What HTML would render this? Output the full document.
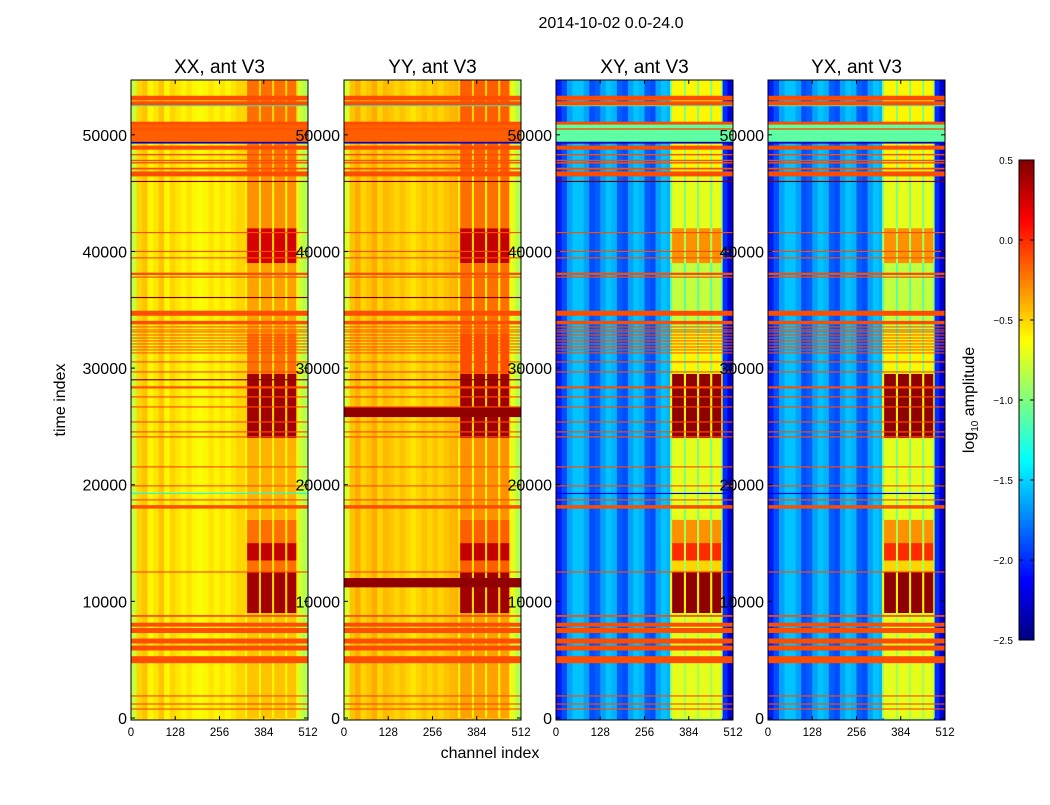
<!DOCTYPE html>
<html><head><meta charset="utf-8">
<style>
html,body{margin:0;padding:0;background:#fff;}
svg text{font-family:"Liberation Sans","DejaVu Sans",sans-serif;}
</style></head>
<body>
<svg id="fig" width="1050" height="800" viewBox="0 0 1050 800" xmlns="http://www.w3.org/2000/svg">
<rect x="0" y="0" width="1050" height="800" fill="#fff"/>
<text x="611" y="28" font-size="16" text-anchor="middle">2014-10-02 0.0-24.0</text>
<text x="490" y="758" font-size="16" text-anchor="middle">channel index</text>
<text transform="translate(65,400) rotate(-90)" font-size="16" text-anchor="middle">time index</text>
<text transform="translate(974,400) rotate(-90)" font-size="16" text-anchor="middle">log<tspan font-size="10" dy="4">10</tspan><tspan dy="-4"> amplitude</tspan></text>
<g id="panels"></g>
<g id="cbar"></g>
</svg>
<script>
const panelNames = ["XX","YY","XY","YX"];
const panelLeft = [131,344,556,768];
const xTicks = [0,128,256,384,512];
const yTicks = [0,10000,20000,30000,40000,50000];
const cbTicks = [0.5,0.0,-0.5,-1.0,-1.5,-2.0,-2.5];
const profXX = [-0.8,-0.5,-0.45,-0.6,-0.55,-0.45,-0.6,-0.5,-0.55,-0.6,-0.55,-0.6,-0.65,-0.6,-0.55,-0.6,-0.55,-0.6,-0.55,-0.5,-0.5,-0.5,-0.55,-0.5,-0.55,-0.5,-0.55,-0.5,-0.55,-0.6,-0.75,-0.85];
const profYY = [-0.75,-0.45,-0.38,-0.5,-0.45,-0.38,-0.5,-0.42,-0.45,-0.5,-0.45,-0.5,-0.55,-0.5,-0.45,-0.5,-0.45,-0.5,-0.45,-0.42,-0.4,-0.4,-0.45,-0.4,-0.45,-0.4,-0.45,-0.4,-0.45,-0.5,-0.7,-0.85];
const profXY = [-2.05,-1.9,-1.65,-1.55,-1.55,-1.65,-1.9,-1.85,-1.65,-1.55,-1.6,-1.85,-1.9,-1.65,-1.55,-1.6,-1.85,-1.9,-1.65,-1.55,-1.6,-0.85,-0.85,-0.85,-0.85,-0.85,-0.85,-0.85,-0.85,-0.9,-2.0,-2.25];
const profYX = [-2.05,-1.9,-1.65,-1.55,-1.55,-1.65,-1.9,-1.85,-1.65,-1.55,-1.6,-1.85,-1.9,-1.65,-1.55,-1.6,-1.85,-1.9,-1.65,-1.55,-1.6,-0.85,-0.85,-0.85,-0.85,-0.85,-0.85,-0.85,-0.85,-0.9,-2.0,-2.25];
const rfiBlocks = [[336,370],[376,408],[414,446],[452,478]];
const segStart = [0,9000,12500,13500,15000,17000,24000,29500,33000,39000,42000,46500];
const segEnd   = [9000,12500,13500,15000,17000,24000,29500,33000,39000,42000,46500,54700];
const segXX = [-0.45,0.4,-0.2,0.3,-0.2,-0.4,0.4,-0.2,-0.35,0.25,-0.3,-0.2];
const segYY = [-0.35,0.4,-0.15,0.3,-0.15,-0.3,0.4,-0.1,-0.2,0.3,-0.2,-0.15];
const segXY = [-0.7,0.45,-0.5,0.0,-0.3,-0.7,0.45,-0.6,-0.8,-0.3,-0.7,-0.6];
const segYX = [-0.7,0.45,-0.5,0.0,-0.3,-0.7,0.45,-0.6,-0.8,-0.3,-0.7,-0.6];
const gapXX = [-0.6,-0.5,-0.55,-0.5,-0.55,-0.6,-0.5,-0.55,-0.6,-0.5,-0.6,-0.5];
const gapXY = [-0.9,-0.6,-0.9,-0.8,-0.9,-1.0,-0.6,-1.0,-1.1,-0.9,-1.0,-1.0];
const flagT = [53150,52700,51000,50500,48900,48300,47800,47600,47100,46650,41620,40000,39450,38080,37800,34700,33900,33530,33270,33100,32840,32580,32330,32070,31810,31560,31300,30530,29670,28300,28390,27530,26670,25380,24530,24100,21530,19900,18700,18100,12520,8750,8000,7500,6600,6000,5000,1890,1200,770];
const flagW = [400,350,250,120,350,120,120,120,150,430,100,100,100,200,100,430,300,80,80,80,80,80,80,80,80,80,80,100,100,100,100,100,100,100,100,100,100,100,100,300,100,150,340,430,430,430,600,100,100,100];
const bandStart = [49400,49250,45950,36000,11200,25800,19200,52450,28950];
const bandEnd   = [51000,49400,46050,36100,12000,26700,19300,52550,29050];
const bandXX = [-0.15,-2.3,0.5,0.5,null,null,-1.3,-1.3,0.5];
const bandYY = [-0.15,-2.3,0.5,0.5,0.45,0.45,null,-1.3,0.5];
const bandXY = [-1.1,-2.3,0.5,null,null,null,-2.2,-1.2,null];
const bandYX = [-1.1,-2.3,0.5,null,null,null,-2.2,-1.2,null];

const TOP=80, BOT=720, W=177, TMAX=54700, VMIN=-2.5, VMAX=0.5;
function ty(t){return BOT-2-(t/TMAX)*(BOT-2-TOP);}
function cx(c,left){return left+c/512*W;}
function clip(v){return Math.max(0,Math.min(1,v));}
function jet(v){
  const x=clip((v-VMIN)/(VMAX-VMIN));
  const r=clip(1.5-Math.abs(4*x-3)),g=clip(1.5-Math.abs(4*x-2)),b=clip(1.5-Math.abs(4*x-1));
  return `rgb(${Math.round(r*255)},${Math.round(g*255)},${Math.round(b*255)})`;
}
const NS="http://www.w3.org/2000/svg";
function mk(tag,attrs,parent){const e=document.createElementNS(NS,tag);for(const k in attrs)e.setAttribute(k,attrs[k]);parent.appendChild(e);return e;}
const profs=[profXX,profYY,profXY,profYX];
const segs=[segXX,segYY,segXY,segYX];
const gaps=[gapXX,gapXX,gapXY,gapXY];
const bands=[bandXX,bandYY,bandXY,bandYX];
const root=document.getElementById('panels');
panelNames.forEach((name,p)=>{
  const left=panelLeft[p];
  const g=mk('g',{},root);
  
  
  const hm=mk('g',{},g);
  
  
  profs[p].forEach((v,i)=>{
    const r=mk('rect',{x:cx(i*16,left),y:TOP,width:W/32+0.3,height:BOT-TOP,fill:jet(v)},hm);
    
    
  });
  segStart.forEach((s,k)=>{
    const y0=ty(segEnd[k]),y1=ty(segStart[k]);
    const gr=mk('rect',{x:cx(330,left),y:y0,width:cx(482,left)-cx(330,left),height:y1-y0,fill:jet(gaps[p][k])},hm);
    
    
    rfiBlocks.forEach(b=>{
      const r=mk('rect',{x:cx(b[0],left),y:y0,width:cx(b[1],left)-cx(b[0],left),height:y1-y0,fill:jet(segs[p][k])},hm);
      
      
    });
  });
  bandStart.forEach((s,k)=>{
    const v=bands[p][k]; if(v===null) return;
    const y0=ty(bandEnd[k]),y1=ty(s);
    const r=mk('rect',{x:left,y:y0,width:W,height:Math.max(1,y1-y0),fill:jet(v)},hm);
    
    
  });
  flagT.forEach((t,k)=>{
    const h=Math.max(1,flagW[k]/TMAX*(BOT-2-TOP));
    const r=mk('rect',{x:left,y:ty(t)-h/2,width:W,height:h,fill:jet(-0.1)},hm);
    
    
  });
  const fr=mk('rect',{x:left,y:TOP,width:W,height:BOT-TOP,fill:'none',stroke:'#000','stroke-width':1},g);
  
  
  const ti=mk('text',{x:left+W/2,y:73,'font-size':19,'text-anchor':'middle'},g);
  ti.textContent=name+', ant V3';
  
  
  xTicks.forEach(c=>{
    const x=cx(c,left);
    mk('line',{x1:x,x2:x,y1:BOT,y2:BOT-4,stroke:'#000'},g);
    mk('line',{x1:x,x2:x,y1:TOP,y2:TOP+4,stroke:'#000'},g);
    const t=mk('text',{x:x,y:736,'font-size':11.5,'text-anchor':'middle'},g);
    t.textContent=c;
    
    
  });
  yTicks.forEach(v=>{
    const y=ty(v);
    mk('line',{x1:left,x2:left+4,y1:y,y2:y,stroke:'#000'},g);
    mk('line',{x1:left+W,x2:left+W-4,y1:y,y2:y,stroke:'#000'},g);
    const t=mk('text',{x:left-4,y:y+6,'font-size':16,'text-anchor':'end'},g);
    t.textContent=v;
    
    
  });
});
const cb=document.getElementById('cbar');
const CBT=160,CBB=640,CBX=1019,CBW=15;
for(let i=0;i<120;i++){
  const v=VMIN+(i+0.5)/120*(VMAX-VMIN);
  const y=CBB-(i+1)/120*(CBB-CBT);
  mk('rect',{x:CBX,y:y,width:CBW,height:(CBB-CBT)/120+0.5,fill:jet(v)},cb);
}
mk('rect',{x:CBX,y:CBT,width:CBW,height:CBB-CBT,fill:'none',stroke:'#000'},cb);
cbTicks.forEach(v=>{
  const y=CBB-(v-VMIN)/(VMAX-VMIN)*(CBB-CBT);
  mk('line',{x1:CBX,x2:CBX+4,y1:y,y2:y,stroke:'#000'},cb);
  mk('line',{x1:CBX+CBW,x2:CBX+CBW-4,y1:y,y2:y,stroke:'#000'},cb);
  const t=mk('text',{x:1013,y:y+4,'font-size':10,'text-anchor':'end'},cb);
  t.textContent=(v<0?'\u2212':'')+Math.abs(v).toFixed(1);
  
  
});
</script>
</body></html>
